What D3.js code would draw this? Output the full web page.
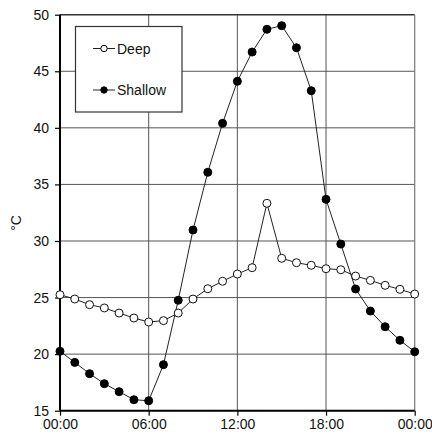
<!DOCTYPE html>
<html>
<head>
<meta charset="utf-8">
<script src="https://cdn.jsdelivr.net/npm/d3@7"></script>
<style>
  html, body { margin: 0; padding: 0; background: #fff; }
  svg { display: block; }
  text { font-family: "Liberation Sans", Arial, sans-serif; fill: #111; }
</style>
</head>
<body>
<svg id="chart" width="432" height="436"></svg>
<script>
// Hour of day for each reading (0 = midnight, 24 = next midnight)
const hours = d3.range(0, 25);
// Hourly temperatures, °C
const deep = [25.25, 24.87, 24.37, 24.08, 23.63, 23.19, 22.84, 22.96, 23.63, 24.87, 25.78,
              26.44, 27.08, 27.64, 33.33, 28.47, 28.08, 27.85, 27.55, 27.46, 26.90,
              26.52, 26.08, 25.73, 25.31];
const shallow = [20.25, 19.27, 18.27, 17.39, 16.68, 15.97, 15.88, 19.07, 24.76, 30.97, 36.07,
                 40.40, 44.11, 46.70, 48.71, 49.03, 47.08, 43.28, 33.68, 29.73, 25.76,
                 23.81, 22.42, 21.22, 20.21];
const xTicks = [0, 6, 12, 18, 24];
const xTickLabels = ["00:00", "06:00", "12:00", "18:00", "00:00"];
const yTicks = [15, 20, 25, 30, 35, 40, 45, 50];
const yLabel = "°C";
const seriesNames = ["Deep", "Shallow"];

const svg = d3.select("#chart");
const m = { left: 60, right: 17.3, top: 14.7, bottom: 25.3 };
const W = 432, H = 436;
const x = d3.scaleLinear().domain([0, 24]).range([m.left, W - m.right]);
const y = d3.scaleLinear().domain([15, 50]).range([H - m.bottom, m.top]);

// grid
const g = svg.append("g");
g.selectAll("line.vg").data(xTicks.slice(1, -1)).join("line")
  .attr("x1", d => x(d)).attr("x2", d => x(d))
  .attr("y1", y(15)).attr("y2", y(50))
  .attr("stroke", "#555").attr("stroke-width", 1);
g.selectAll("line.hg").data(yTicks.slice(1, -1)).join("line")
  .attr("x1", x(0)).attr("x2", x(24))
  .attr("y1", d => y(d)).attr("y2", d => y(d))
  .attr("stroke", "#555").attr("stroke-width", 1);

// frame: top and right
g.append("line").attr("x1", x(0)).attr("x2", x(24)).attr("y1", y(50)).attr("y2", y(50))
  .attr("stroke", "#333").attr("stroke-width", 1.5);
g.append("line").attr("x1", x(24)).attr("x2", x(24)).attr("y1", y(50)).attr("y2", y(15))
  .attr("stroke", "#777").attr("stroke-width", 1.2);

// axes
const xAxis = d3.axisBottom(x).tickValues(xTicks)
  .tickFormat((d, i) => xTickLabels[i]).tickSize(5).tickPadding(3);
const yAxis = d3.axisLeft(y).tickValues(yTicks).tickSize(5).tickPadding(6);

const gx = svg.append("g").attr("transform", `translate(0,${y(15)})`).call(xAxis);
const gy = svg.append("g").attr("transform", `translate(${x(0)},0)`).call(yAxis);
[gx, gy].forEach(a => {
  a.select(".domain").attr("stroke", "#000").attr("stroke-width", 2);
  a.selectAll(".tick line").attr("stroke", "#000").attr("stroke-width", 1.2);
  a.selectAll(".tick text").attr("font-size", 14).attr("fill", "#111")
    .attr("font-family", "Liberation Sans, Arial, sans-serif");
});
gy.select(".domain").attr("d", `M0,${y(15)}V${y(50)}`);
gx.select(".domain").attr("d", `M${x(0)},0H${x(24)}`);

// y label
svg.append("text")
  .attr("transform", `translate(21,${y(31.6)}) rotate(-90)`)
  .attr("text-anchor", "middle")
  .attr("font-size", 14)
  .text(yLabel);

// series
const line = d3.line().x((d, i) => x(hours[i])).y(d => y(d));
const plot = svg.append("g");
plot.append("path").datum(deep).attr("d", line)
  .attr("fill", "none").attr("stroke", "#222").attr("stroke-width", 1);
plot.append("path").datum(shallow).attr("d", line)
  .attr("fill", "none").attr("stroke", "#222").attr("stroke-width", 1);
plot.selectAll("circle.deep").data(deep).join("circle")
  .attr("cx", (d, i) => x(hours[i])).attr("cy", d => y(d)).attr("r", 4)
  .attr("fill", "#fff").attr("stroke", "#111").attr("stroke-width", 1);
plot.selectAll("circle.shallow").data(shallow).join("circle")
  .attr("cx", (d, i) => x(hours[i])).attr("cy", d => y(d)).attr("r", 4)
  .attr("fill", "#000").attr("stroke", "#000").attr("stroke-width", 1);

// legend
const lg = svg.append("g");
lg.append("rect").attr("x", 75.5).attr("y", 26.5).attr("width", 106.5).attr("height", 85.5)
  .attr("fill", "#fff").attr("stroke", "#333").attr("stroke-width", 1.2);
const entries = [
  { name: seriesNames[0], fill: "#fff", yy: 48.5 },
  { name: seriesNames[1], fill: "#000", yy: 90 }
];
entries.forEach(e => {
  lg.append("line").attr("x1", 93).attr("x2", 115).attr("y1", e.yy).attr("y2", e.yy)
    .attr("stroke", "#222").attr("stroke-width", 1);
  lg.append("circle").attr("cx", 104).attr("cy", e.yy).attr("r", 3.2)
    .attr("fill", e.fill).attr("stroke", "#000").attr("stroke-width", 1);
  lg.append("text").attr("x", 117).attr("y", e.yy + 5).attr("font-size", 14).text(e.name);
});
</script>
</body>
</html>
